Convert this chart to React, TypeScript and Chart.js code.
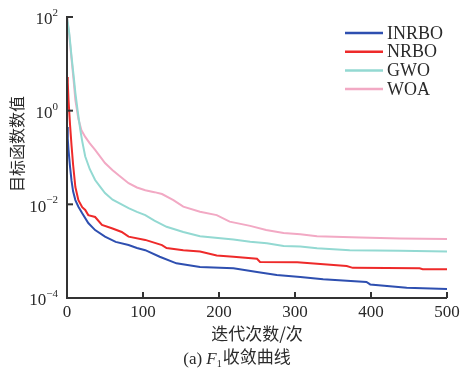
import { useEffect, useRef } from "react";
import { Chart, registerables } from "chart.js";
Chart.register(...registerables);

const seriesNames = ["INRBO", "NRBO", "GWO", "WOA"];
const seriesColors = ["#2e4fb0", "#ee2a2a", "#93d9d2", "#f2a9c4"];

const inrboIter = [0, 1, 2, 4, 6, 8, 11, 15, 20, 28, 37, 50, 64, 81, 92, 103, 122, 144, 175, 219, 250, 276, 307, 337, 394, 399, 447, 500];
const inrboVals = [0.447, 0.251, 0.145, 0.063, 0.0316, 0.019, 0.0123, 0.00891, 0.00646, 0.00398, 0.00282, 0.00204, 0.00158, 0.00135, 0.00117, 0.00105, 0.00076, 0.00055, 0.00046, 0.00043, 0.00036, 0.00031, 0.00028, 0.00025, 0.00022, 0.000195, 0.000166, 0.000155];

const nrboIter = [0, 1, 2, 4, 6, 8, 11, 15, 20, 24, 28, 37, 46, 59, 72, 81, 103, 125, 131, 153, 175, 197, 219, 250, 254, 303, 368, 376, 464, 468, 500];
const nrboVals = [5.25, 3.98, 1.7, 0.5, 0.178, 0.0708, 0.0234, 0.0123, 0.0087, 0.00759, 0.00589, 0.00537, 0.00363, 0.00309, 0.00257, 0.00204, 0.00174, 0.00135, 0.00117, 0.00105, 0.00098, 0.00081, 0.00076, 0.00069, 0.00059, 0.00058, 0.00048, 0.00044, 0.00043, 0.00041, 0.00041];

const gwoIter = [0, 3, 6, 9, 11, 14, 17.5, 20, 24, 30, 37, 44, 50, 60, 68, 81, 92, 103, 115, 131, 153, 175, 219, 241, 263, 285, 307, 329, 372, 438, 500];
const gwoVals = [100, 44.7, 14.1, 5.0, 2.4, 1.0, 0.389, 0.224, 0.105, 0.0562, 0.0331, 0.0234, 0.0174, 0.0126, 0.0107, 0.0083, 0.00692, 0.00589, 0.00447, 0.00331, 0.00257, 0.00209, 0.00178, 0.00158, 0.00148, 0.00129, 0.00126, 0.00115, 0.00105, 0.00102, 0.00098];

const woaIter = [0, 3, 6, 9, 11, 15, 19, 24, 30, 37, 50, 60, 68, 81, 92, 103, 115, 125, 140, 153, 175, 197, 214, 241, 262, 285, 307, 329, 386, 438, 500];
const woaVals = [100, 39.8, 12.6, 3.98, 1.7, 0.66, 0.38, 0.275, 0.2, 0.145, 0.0759, 0.0537, 0.0417, 0.0282, 0.0229, 0.02, 0.0182, 0.0166, 0.0123, 0.00891, 0.00692, 0.00589, 0.00427, 0.00347, 0.00282, 0.00245, 0.00229, 0.00209, 0.00195, 0.00186, 0.00182];

const xTickValues = [0, 100, 200, 300, 400, 500];
const yTickValues = [100, 1, 0.01, 0.0001];
const yTickExponents = ["2", "0", "\u22122", "\u22124"];
const xAxisTitle = "迭代次数/次";
const yAxisTitle = "目标函数数值";
const captionPrefix = "(a) ";
const captionVar = "F";
const captionSub = "1";
const captionSuffix = "收敛曲线";

const SERIF = '"Liberation Serif", "DejaVu Serif", serif';
const CJK = '"Noto Sans CJK SC", sans-serif';
const TEXT = "#2a2a2a";

const decorPlugin = {
  id: "decor",
  afterDraw(chart: any) {
    const ctx = chart.ctx as CanvasRenderingContext2D;
    const { left, right, top, bottom } = chart.chartArea;
    const xs = chart.scales.x;
    const ys = chart.scales.y;
    ctx.save();
    ctx.strokeStyle = "#333";
    ctx.lineWidth = 2;
    ctx.beginPath();
    ctx.moveTo(left, top - 1);
    ctx.lineTo(left, bottom);
    ctx.lineTo(right, bottom);
    ctx.stroke();

    // y ticks + labels
    yTickValues.forEach((v, i) => {
      const y = ys.getPixelForValue(v);
      ctx.beginPath();
      ctx.moveTo(left, y);
      ctx.lineTo(left + 6, y);
      ctx.stroke();
      ctx.fillStyle = TEXT;
      ctx.textBaseline = "middle";
      ctx.textAlign = "left";
      ctx.font = `11px ${SERIF}`;
      const ew = ctx.measureText(yTickExponents[i]).width;
      ctx.font = `17px ${SERIF}`;
      const bw = ctx.measureText("10").width;
      const rightEdge = 58;
      ctx.fillText("10", rightEdge - ew - bw, y + 3);
      ctx.font = `11px ${SERIF}`;
      ctx.fillText(yTickExponents[i], rightEdge - ew, y - 4);
    });

    // x ticks + labels
    xTickValues.forEach((v) => {
      const x = xs.getPixelForValue(v);
      if (v !== 0) {
        ctx.beginPath();
        ctx.moveTo(x, bottom);
        ctx.lineTo(x, bottom - 6);
        ctx.stroke();
      }
      ctx.fillStyle = TEXT;
      ctx.font = `17px ${SERIF}`;
      ctx.textAlign = "center";
      ctx.textBaseline = "middle";
      ctx.fillText(String(v), x, bottom + 15);
    });

    // axis titles
    ctx.font = `17px ${CJK}`;
    ctx.textAlign = "center";
    ctx.textBaseline = "middle";
    ctx.fillText(xAxisTitle, (left + right) / 2, bottom + 36);

    ctx.save();
    ctx.translate(17, 144);
    ctx.rotate(-Math.PI / 2);
    ctx.font = `16px ${CJK}`;
    ctx.fillText(yAxisTitle, 0, 0);
    ctx.restore();

    // caption
    ctx.textAlign = "left";
    ctx.textBaseline = "alphabetic";
    ctx.font = `17px ${SERIF}`;
    const w1 = ctx.measureText(captionPrefix).width;
    ctx.font = `italic 17px ${SERIF}`;
    const w2 = ctx.measureText(captionVar).width;
    ctx.font = `10px ${SERIF}`;
    const w3 = ctx.measureText(captionSub).width;
    ctx.font = `17px ${CJK}`;
    const w4 = ctx.measureText(captionSuffix).width;
    let cx = 237 - (w1 + w2 + w3 + 1 + w4) / 2;
    const base = 364;
    ctx.font = `17px ${SERIF}`;
    ctx.fillText(captionPrefix, cx, base);
    cx += w1;
    ctx.font = `italic 17px ${SERIF}`;
    ctx.fillText(captionVar, cx, base);
    cx += w2;
    ctx.font = `10px ${SERIF}`;
    ctx.fillText(captionSub, cx, base + 3);
    cx += w3 + 1;
    ctx.font = `17px ${CJK}`;
    ctx.fillText(captionSuffix, cx, base - 1);

    // legend
    const ds = chart.data.datasets;
    ctx.textBaseline = "middle";
    ctx.font = `18px ${SERIF}`;
    ds.forEach((d: any, i: number) => {
      const y = 33 + i * 18.7;
      ctx.strokeStyle = d.borderColor;
      ctx.lineWidth = 2.5;
      ctx.beginPath();
      ctx.moveTo(345, y);
      ctx.lineTo(383, y);
      ctx.stroke();
      ctx.fillStyle = TEXT;
      ctx.fillText(d.label, 387, y + 1);
    });
    ctx.restore();
  },
};

function toPoints(iters: number[], vals: number[]) {
  return iters.map((x, i) => ({ x, y: vals[i] }));
}

export default function App() {
  const ref = useRef<HTMLCanvasElement | null>(null);
  useEffect(() => {
    if (!ref.current) return;
    const allIters = [inrboIter, nrboIter, gwoIter, woaIter];
    const allVals = [inrboVals, nrboVals, gwoVals, woaVals];
    const chart = new Chart(ref.current, {
      type: "line",
      data: {
        datasets: seriesNames.map((name, i) => ({
          label: name,
          data: toPoints(allIters[i], allVals[i]),
          borderColor: seriesColors[i],
          backgroundColor: seriesColors[i],
          borderWidth: 2,
          pointRadius: 0,
          tension: 0,
          fill: false,
          order: i,
        })),
      },
      options: {
        animation: false,
        responsive: false,
        maintainAspectRatio: false,
        layout: { padding: { left: 67, right: 15, top: 17, bottom: 70 } },
        plugins: { legend: { display: false }, tooltip: { enabled: false }, title: { display: false } },
        scales: {
          x: { type: "linear", min: 0, max: 500, display: false },
          y: { type: "logarithmic", min: 0.0001, max: 100, display: false },
        },
      },
      plugins: [decorPlugin],
    } as any);
    return () => chart.destroy();
  }, []);
  return (
    <div style={{ position: "absolute", left: 0, top: 0, width: 462, height: 368, background: "#fff" }}>
      <canvas ref={ref} width={462} height={368} style={{ width: 462, height: 368, display: "block" }} />
    </div>
  );
}
